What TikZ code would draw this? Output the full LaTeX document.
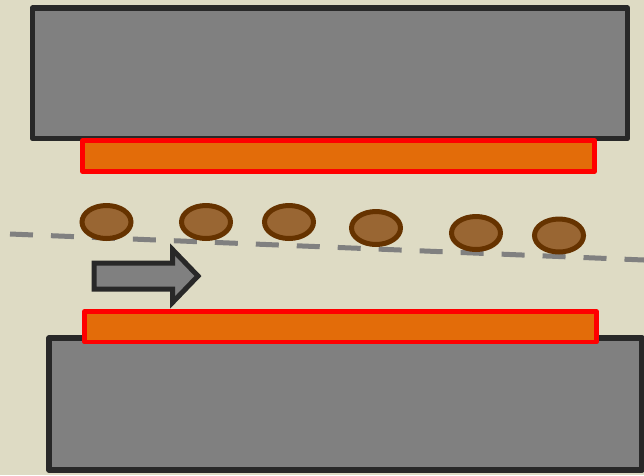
\documentclass[tikz,border=0pt]{standalone}
\begin{document}
\begin{tikzpicture}[x=1pt,y=-1pt,
  bg/.style={fill=bgcol},
  die/.style={draw=diecol,fill=gray50,line width=5.5pt,line join=round},
  pad/.style={draw=red,fill=padorange,line width=4.5pt,line join=round},
  grain/.style={draw=graindark,fill=grainfill,line width=5pt},
  flowline/.style={draw=gray50,line width=5pt,dash pattern=on 23pt off 18pt},
  flowarrow/.style={draw=diecol,fill=gray50,line width=5pt,line join=miter}]
\definecolor{bgcol}{RGB}{222,219,196}
\definecolor{diecol}{RGB}{40,40,40}
\definecolor{gray50}{RGB}{128,128,128}
\definecolor{padorange}{RGB}{227,108,9}
\definecolor{graindark}{RGB}{102,51,0}
\definecolor{grainfill}{RGB}{153,102,51}
\useasboundingbox (0,0) rectangle (644,475);
\fill[bg] (0,0) rectangle (644,475);
% dies
\draw[die] (32.5,8) rectangle (627.5,138.5);
\draw[die] (49,338) rectangle (642,470);
% pads
\draw[pad] (82.5,140.5) rectangle (594.5,171.5);
\draw[pad] (84.5,311.5) rectangle (596.5,342);
% flow line
\coordinate (fl1) at (10,234);
\coordinate (fl2) at (644,260);
\draw[flowline] (fl1) -- (fl2);
% grains
\foreach \n/\x/\y in {g1/106.5/222, g2/206/222, g3/289/222, g4/376/228, g5/476/233, g6/559/235.5}
  \draw[grain] (\x,\y) ellipse [x radius=24.5pt, y radius=16.5pt];
% arrow
\draw[flowarrow] (94,263) -- (172.5,263) -- (172.5,249.5) -- (198,276) -- (172.5,302.5) -- (172.5,289) -- (94,289) -- cycle;
\end{tikzpicture}
\end{document}
